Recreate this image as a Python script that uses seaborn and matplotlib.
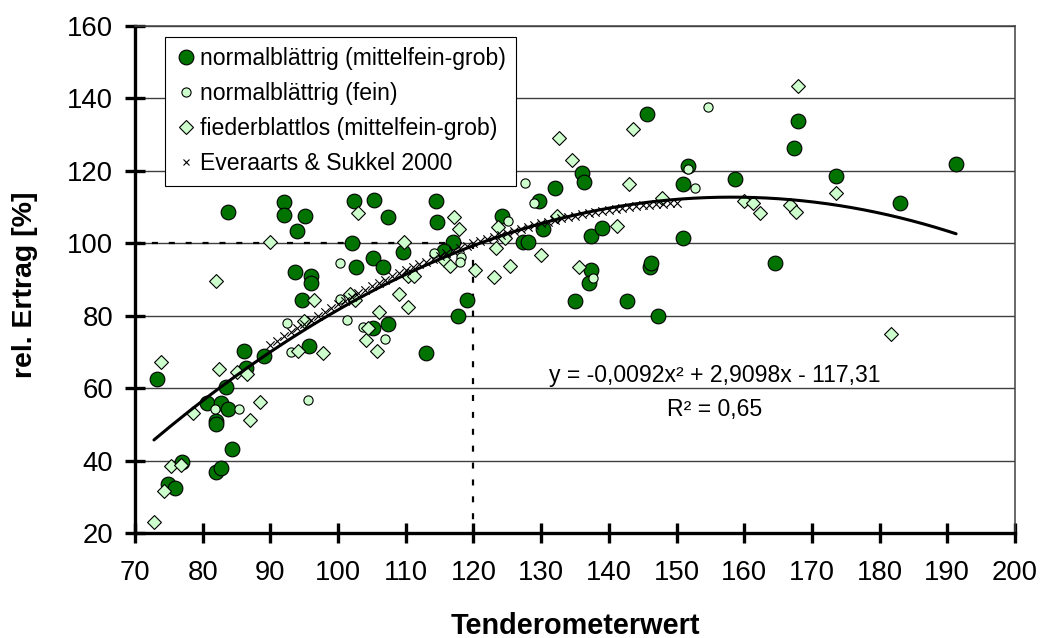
import numpy as np
import pandas as pd
import matplotlib
matplotlib.use("Agg")
import matplotlib.pyplot as plt
import seaborn as sns
from matplotlib.lines import Line2D

# ---------------- data ----------------
grob_x = [73.2, 74.9, 75.9, 77.0, 80.6, 82.7, 82.0, 82.0, 82.0, 82.7, 83.4, 83.8, 83.7, 84.3,
          86.1, 86.4, 89.0, 92.0, 92.0, 94.0, 93.7, 95.1, 94.7, 96.0, 96.0, 95.7, 102.1, 102.3,
          102.7, 105.3, 105.1, 105.2, 106.6, 107.4, 107.4, 109.6, 113.0, 114.4, 114.6, 117.0,
          115.7, 117.7, 119.0, 124.2, 127.3, 128.0, 129.7, 130.3, 132.0, 135.0, 136.0, 136.3,
          137.4, 137.4, 137.0, 139.0, 142.7, 145.6, 146.1, 146.3, 147.3, 150.9, 151.0, 151.7,
          158.6, 164.6, 167.3, 167.9, 173.6, 183.0, 191.3]
grob_y = [62.6, 33.7, 32.6, 39.6, 55.9, 55.9, 50.9, 50.2, 37.0, 38.1, 60.3, 54.4, 108.8, 43.2,
          70.3, 65.6, 68.9, 111.5, 107.8, 103.4, 92.1, 107.5, 84.3, 91.0, 89.2, 71.8, 100.2, 111.8,
          93.4, 112.1, 96.0, 76.6, 93.4, 107.2, 77.7, 97.7, 69.8, 111.7, 105.9, 100.3,
          98.0, 80.0, 84.4, 107.6, 100.3, 100.3, 111.7, 103.9, 115.4, 84.0, 119.5, 117.0,
          102.1, 92.6, 89.0, 104.3, 84.1, 135.8, 93.6, 94.6, 80.0, 116.5, 101.5, 121.3,
          117.8, 94.6, 126.3, 133.9, 118.7, 111.2, 122.0]

fein_x = [81.8, 85.3, 92.4, 93.0, 95.6, 100.3, 100.3, 101.3, 103.7, 106.9, 114.2, 118.2,
          118.0, 125.1, 127.6, 129.0, 137.6, 151.7, 152.7, 154.7]
fein_y = [54.3, 54.3, 77.9, 69.9, 56.8, 94.5, 84.6, 78.8, 77.0, 73.6, 97.4, 96.2,
          94.8, 106.2, 116.7, 111.1, 90.5, 120.5, 115.4, 137.7]

fieder_x = [72.8, 73.9, 74.3, 75.3, 76.8, 78.5, 82.0, 82.4, 85.0, 86.5, 87.0, 88.4, 90.0,
            94.1, 95.0, 96.4, 97.7, 101.8, 102.5, 103.0, 104.1, 104.4, 105.7, 106.1, 109.0,
            109.7, 110.3, 111.2, 110.3, 115.7, 116.6, 117.1, 117.8, 120.3, 123.0, 123.3,
            123.6, 124.6, 125.4, 130.0, 132.3, 132.7, 134.6, 135.6, 141.2, 143.0, 143.6,
            147.9, 160.0, 161.3, 162.3, 166.7, 167.7, 167.9, 173.6, 181.7]
fieder_y = [23.2, 67.3, 31.8, 38.7, 38.9, 53.1, 89.5, 65.3, 64.4, 64.0, 51.2, 56.1, 100.3,
            70.2, 78.5, 84.3, 69.7, 86.1, 84.4, 108.3, 73.4, 76.6, 70.4, 81.0, 86.1,
            100.3, 91.1, 91.1, 82.4, 95.5, 93.7, 107.2, 104.0, 92.7, 90.8, 98.6,
            104.6, 101.5, 93.9, 96.7, 107.7, 129.0, 123.0, 93.6, 104.7, 116.5, 131.7,
            112.6, 111.6, 111.2, 108.4, 110.5, 108.8, 143.4, 114.0, 75.0]

ever_x = list(range(90, 151))
ever_y = [72.0, 73.2, 74.4, 75.5, 76.7, 77.8, 78.9, 80.0, 81.1, 82.1,
          83.2, 84.2, 85.2, 86.2, 87.2, 88.2, 89.1, 90.0, 90.9, 91.8,
          92.6, 93.4, 94.2, 95.0, 95.8, 96.6, 97.3, 98.0, 98.7, 99.4,
          100.0, 100.6, 101.2, 101.8, 102.4, 103.0, 103.5, 104.0, 104.6, 105.1,
          105.6, 106.0, 106.4, 106.9, 107.3, 107.7, 108.0, 108.4, 108.7, 109.0,
          109.3, 109.5, 109.8, 110.0, 110.3, 110.5, 110.6, 110.8, 110.9, 111.1,
          111.2]

trend_coef = [-0.0092, 2.9098, -117.31]
trend_range = [72.8, 191.3]
guide_x = [70, 120, 120]
guide_y = [100, 100, 20]

labels = ["normalblättrig (mittelfein-grob)", "normalblättrig (fein)",
          "fiederblattlos (mittelfein-grob)", "Everaarts & Sukkel 2000"]
eq_text = "y = -0,0092x² + 2,9098x - 117,31"
r2_text = "R² = 0,65"
x_ticks = list(range(70, 201, 10))
y_ticks = list(range(20, 161, 20))

# ---------------- style ----------------
sns.set_theme(style="white")
plt.rcParams["font.family"] = ["Liberation Sans", "DejaVu Sans"]
plt.rcParams["axes.unicode_minus"] = False
plt.rcParams["text.color"] = "black"
plt.rcParams["axes.labelcolor"] = "black"
plt.rcParams["xtick.color"] = "black"
plt.rcParams["ytick.color"] = "black"

DARK = "#007300"
LIGHT = "#CCFFCC"

fig = plt.figure(figsize=(10.42, 6.38), dpi=100)
W, H = 1042, 638
x0, x1, y0, y1 = 135, 1015, 26, 533.3
ax = fig.add_axes([x0 / W, 1 - y1 / H, (x1 - x0) / W, (y1 - y0) / H])

# guide lines (dashed)
ax.plot(guide_x[:2], guide_y[:2], color="black", lw=1.6, ls=(0, (2.7, 4.9)), zorder=2)
ax.plot(guide_x[1:], guide_y[1:], color="black", lw=1.6, ls=(0, (2.7, 4.9)), zorder=2)

sns.scatterplot(x=grob_x, y=grob_y, ax=ax, marker="o", s=112, color=DARK,
                edgecolor="black", linewidth=0.8, zorder=3, legend=False)
sns.scatterplot(x=fein_x, y=fein_y, ax=ax, marker="o", s=44, color=LIGHT,
                edgecolor="black", linewidth=0.8, zorder=4, legend=False)
sns.scatterplot(x=fieder_x, y=fieder_y, ax=ax, marker="D", s=50, color=LIGHT,
                edgecolor="black", linewidth=0.8, zorder=5, legend=False)
sns.scatterplot(x=ever_x, y=ever_y, ax=ax, marker="x", s=36, color="black",
                linewidth=0.8, zorder=6, legend=False)

tx = np.linspace(trend_range[0], trend_range[1], 200)
ty = np.polyval(trend_coef, tx)
sns.lineplot(x=tx, y=ty, ax=ax, color="black", lw=2.2, sort=False,
             estimator=None, zorder=7, legend=False)

ax.set_xlim(70, 200)
ax.set_ylim(20, 160)
ax.set_xticks(x_ticks)
ax.set_yticks(y_ticks)
ax.set_axisbelow(True)
ax.yaxis.grid(True, color="#404040", lw=1.0)
ax.xaxis.grid(False)

for side in ["left", "bottom"]:
    ax.spines[side].set_linewidth(2.4)
    ax.spines[side].set_color("black")
for side in ["top", "right"]:
    ax.spines[side].set_linewidth(1.1)
    ax.spines[side].set_color("#404040")

ax.tick_params(axis="both", direction="inout", length=14, width=2.4,
               labelsize=19.8, colors="black", bottom=True, left=True)
ax.tick_params(axis="x", pad=12)
ax.tick_params(axis="y", pad=8.6)

ax.set_xlabel("Tenderometerwert", fontsize=20.8, fontweight="bold", color="black")
ax.set_ylabel("rel. Ertrag [%]", fontsize=20.5, fontweight="bold", color="black")
ax.xaxis.set_label_coords(0.5, -0.155)
ax.yaxis.set_label_coords(-0.110, 0.49)

ax.text(155.7, 63.5, eq_text, ha="center", va="center", fontsize=16.6, color="black")
ax.text(155.7, 54.3, r2_text, ha="center", va="center", fontsize=16.6, color="black")

handles = [
    Line2D([], [], ls="none", marker="o", ms=10.6, mfc=DARK, mec="black", mew=0.8),
    Line2D([], [], ls="none", marker="o", ms=6.6, mfc=LIGHT, mec="black", mew=0.8),
    Line2D([], [], ls="none", marker="D", ms=7.1, mfc=LIGHT, mec="black", mew=0.8),
    Line2D([], [], ls="none", marker="x", ms=5.0, color="black", mew=0.8),
]
leg = ax.legend(handles, labels, loc="upper left",
                bbox_to_anchor=(165 / W, 1 - 37 / H), bbox_transform=fig.transFigure,
                fontsize=16.6, frameon=True, fancybox=False, framealpha=1,
                edgecolor="black", borderpad=0.45, labelspacing=0.52,
                handlelength=0.9, handletextpad=0.15, borderaxespad=0, numpoints=1)
leg.get_frame().set_linewidth(0.8)
leg.set_zorder(10)
for t in leg.get_texts():
    t.set_color("black")

fig.savefig("out.png", dpi=100)
